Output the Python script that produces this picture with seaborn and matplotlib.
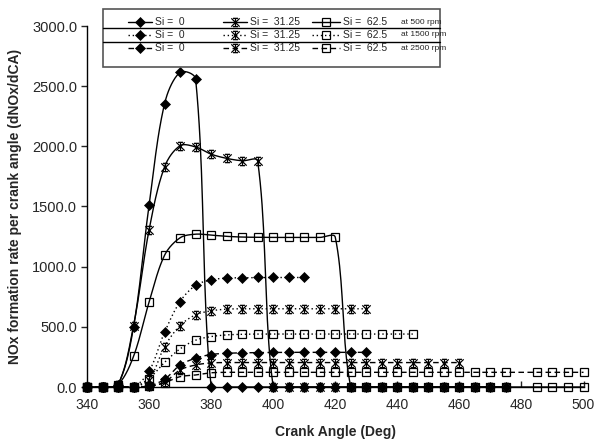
import numpy as np
import pandas as pd
import matplotlib
matplotlib.use("Agg")
import matplotlib.pyplot as plt
import seaborn as sns
from matplotlib.lines import Line2D
from matplotlib.patches import Rectangle
from matplotlib.path import Path

# ---------------- data ----------------
x_500_si0 = [340, 345, 350, 355, 360, 365, 370, 375, 380, 385, 390, 395, 400, 405,
             410, 415, 420, 425, 430, 435, 440, 445, 450, 455, 460, 465, 470, 475]
y_500_si0 = [0, 0, 20, 500, 1510, 2355, 2615, 2560, 0, 0, 0, 0, 0, 0,
             0, 0, 0, 0, 0, 0, 0, 0, 0, 0, 0, 0, 0, 0]

x_500_si31 = [340, 345, 350, 355, 360, 365, 370, 375, 380, 385, 390, 395, 400, 405,
              410, 415, 420, 425, 430, 435, 440, 445, 450, 455, 460, 465, 470, 475]
y_500_si31 = [0, 0, 20, 510, 1305, 1830, 2005, 1995, 1935, 1900, 1880, 1878, 0, 0,
              0, 0, 0, 0, 0, 0, 0, 0, 0, 0, 0, 0, 0, 0]

x_500_si62 = [340, 345, 350, 355, 360, 365, 370, 375, 380, 385, 390, 395, 400, 405,
              410, 415, 420, 425, 430, 435, 440, 445, 450, 455, 460, 465, 470, 475,
              485, 490, 495, 500]
y_500_si62 = [0, 0, 20, 255, 705, 1095, 1240, 1270, 1262, 1252, 1246, 1244, 1243, 1243,
              1243, 1243, 1245, 0, 0, 0, 0, 0, 0, 0, 0, 0, 0, 0,
              0, 0, 0, 0]

x_1500_si0 = [340, 345, 350, 355, 360, 365, 370, 375, 380, 385, 390, 395, 400, 405, 410]
y_1500_si0 = [0, 0, 0, 0, 130, 455, 710, 845, 890, 905, 908, 910, 910, 910, 910]

x_1500_si31 = [340, 345, 350, 355, 360, 365, 370, 375, 380, 385, 390, 395, 400, 405,
               410, 415, 420, 425, 430]
y_1500_si31 = [0, 0, 0, 0, 60, 336, 511, 600, 633, 647, 650, 650, 650, 650,
               650, 650, 650, 650, 650]

x_1500_si62 = [340, 345, 350, 355, 360, 365, 370, 375, 380, 385, 390, 395, 400, 405,
               410, 415, 420, 425, 430, 435, 440, 445]
y_1500_si62 = [0, 0, 0, 0, 70, 205, 317, 389, 419, 433, 438, 440, 440, 440,
               440, 440, 440, 440, 440, 440, 440, 440]

x_2500_si0 = [340, 345, 350, 355, 360, 365, 370, 375, 380, 385, 390, 395, 400, 405,
              410, 415, 420, 425, 430]
y_2500_si0 = [0, 0, 0, 0, 10, 64, 183, 239, 270, 280, 284, 286, 287, 288,
              288, 288, 288, 288, 288]

x_2500_si31 = [340, 345, 350, 355, 360, 365, 370, 375, 380, 385, 390, 395, 400, 405,
               410, 415, 420, 425, 430, 435, 440, 445, 450, 455, 460]
y_2500_si31 = [0, 0, 0, 0, 5, 40, 142, 183, 200, 203, 203, 203, 203, 203,
               203, 203, 203, 203, 203, 203, 203, 203, 203, 203, 203]

x_2500_si62 = [340, 345, 350, 355, 360, 365, 370, 375, 380, 385, 390, 395, 400, 405,
               410, 415, 420, 425, 430, 435, 440, 445, 450, 455, 460, 465, 470, 475,
               485, 490, 495, 500]
y_2500_si62 = [0, 0, 0, 0, 5, 36, 86, 100, 118, 122, 122, 122, 122, 122,
               122, 122, 122, 122, 122, 122, 122, 122, 122, 122, 122, 122, 122, 122,
               122, 122, 122, 122]

si_labels = ["Si =  0", "Si =  31.25", "Si =  62.5"]
rpm_labels = ["at 500 rpm", "at 1500 rpm", "at 2500 rpm"]
x_ticks = [340, 360, 380, 400, 420, 440, 460, 480, 500]
y_ticks = [0, 500, 1000, 1500, 2000, 2500, 3000]

series = [
    (x_500_si0, y_500_si0, 0, 0), (x_500_si31, y_500_si31, 0, 1), (x_500_si62, y_500_si62, 0, 2),
    (x_1500_si0, y_1500_si0, 1, 0), (x_1500_si31, y_1500_si31, 1, 1), (x_1500_si62, y_1500_si62, 1, 2),
    (x_2500_si0, y_2500_si0, 2, 0), (x_2500_si31, y_2500_si31, 2, 1), (x_2500_si62, y_2500_si62, 2, 2),
]

# ---------------- styles ----------------
# Excel-like "star" marker: an X with a vertical stroke and short top/bottom bars
star_path = Path(
    [(-1, -1), (1, 1), (-1, 1), (1, -1), (0, -1), (0, 1), (-0.6, 1), (0.6, 1), (-0.6, -1), (0.6, -1)],
    [Path.MOVETO, Path.LINETO] * 5,
)
line_styles = ["-", (0, (1, 2)), (0, (4, 2.5))]
marker_kw = [
    dict(marker="D", markersize=4.8, markerfacecolor="black", markeredgecolor="black", markeredgewidth=0.5),
    dict(marker=star_path, markersize=6, markerfacecolor="none", markeredgecolor="black", markeredgewidth=0.9),
    dict(marker="s", markersize=5.5, markerfacecolor="none", markeredgecolor="black", markeredgewidth=0.9),
]

W, H = 597, 440
L, R, B, T = 87, 583.5, 387, 26
XMIN, XMAX, YMIN, YMAX = 340, 500, 0, 3000
SX = (R - L) / (XMAX - XMIN)   # px per degree
SY = (B - T) / (YMAX - YMIN)   # px per unit


def smooth_curve(x, y, n=20):
    """Excel-style smoothed line: cubic Bezier segments whose control points
    follow the neighbouring chord, scaled by relative segment length on screen."""
    p = np.column_stack([np.asarray(x, float) * SX, np.asarray(y, float) * SY])
    m = len(p)
    d = np.hypot(*np.diff(p, axis=0).T)
    out = []
    for i in range(m - 1):
        p1, p2 = p[i], p[i + 1]
        if i > 0:
            t1 = (p2 - p[i - 1]) * d[i] / (d[i - 1] + d[i]) / 3.0
        else:
            t1 = (p2 - p1) / 3.0
        if i + 2 < m:
            t2 = (p[i + 2] - p1) * d[i] / (d[i] + d[i + 1]) / 3.0
        else:
            t2 = (p2 - p1) / 3.0
        c1, c2 = p1 + t1, p2 - t2
        t = np.linspace(0, 1, n, endpoint=False)[:, None]
        seg = ((1 - t) ** 3) * p1 + 3 * ((1 - t) ** 2) * t * c1 + 3 * (1 - t) * t ** 2 * c2 + t ** 3 * p2
        out.append(seg)
    out.append(p[-1:])
    arr = np.vstack(out)
    return arr[:, 0] / SX, arr[:, 1] / SY


sns.set_style("white")
plt.rcParams["font.family"] = ["Liberation Sans", "DejaVu Sans"]

fig = plt.figure(figsize=(W / 100, H / 100), dpi=100)
ax = fig.add_axes([L / W, 1 - B / H, (R - L) / W, (B - T) / H])

for xs, ys, r, s in series:
    sx, sy = smooth_curve(xs, ys)
    sns.lineplot(x=sx, y=sy, ax=ax, sort=False, estimator=None, color="black",
                 linestyle=line_styles[r], linewidth=1.0)
    sns.lineplot(x=np.array(xs, float), y=np.array(ys, float), ax=ax, sort=False, estimator=None,
                 color="black", linestyle="none", clip_on=False, zorder=5, **marker_kw[s])

ax.set_xlim(XMIN, XMAX)
ax.set_ylim(YMIN, YMAX)
ax.set_xticks(x_ticks)
ax.set_yticks(y_ticks)
ax.set_xticklabels([str(v) for v in x_ticks])
ax.set_yticklabels([f"{v:.1f}" for v in y_ticks])
for sp in ["top", "right"]:
    ax.spines[sp].set_visible(False)
for sp in ["left", "bottom"]:
    ax.spines[sp].set_color("black")
    ax.spines[sp].set_linewidth(1.0)
ax.tick_params(axis="y", direction="out", length=4, width=1, labelsize=10.5, pad=3, left=True)
ax.tick_params(axis="x", direction="in", length=4, width=1, labelsize=10, pad=8, bottom=True)
ax.set_xlabel("Crank Angle (Deg)", fontsize=10, fontweight="bold", labelpad=9)
ax.set_ylabel("NOx formation rate per crank angle (dNOx/dCA)", fontsize=10, fontweight="bold", labelpad=7)
ax.grid(False)

# ---------------- legend box (drawn in figure pixels) ----------------
def fx(px):
    return px / W


def fy(py):
    return 1 - py / H


box_l, box_r, box_t, box_b = 103, 440, 9, 67
fig.add_artist(Rectangle((fx(box_l), fy(box_b)), fx(box_r) - fx(box_l), fy(box_t) - fy(box_b),
                         transform=fig.transFigure, facecolor="white", edgecolor="#555555",
                         linewidth=1.2, zorder=10))
row_y = [22, 35, 48]
for dy in [28.5, 41.7]:
    fig.add_artist(Line2D([fx(box_l), fx(box_r)], [fy(dy), fy(dy)], transform=fig.transFigure,
                          color="black", linewidth=1.0, zorder=11))
col_line = [(128, 152), (223, 247), (312, 340)]
for r in range(3):
    for s in range(3):
        x0, x1 = col_line[s]
        fig.add_artist(Line2D([fx(x0), fx(x1)], [fy(row_y[r]), fy(row_y[r])], transform=fig.transFigure,
                              color="black", linestyle=line_styles[r], linewidth=1.0, zorder=11))
        fig.add_artist(Line2D([fx((x0 + x1) / 2)], [fy(row_y[r])], transform=fig.transFigure,
                              color="black", linestyle="none", zorder=12, **marker_kw[s]))
        fig.text(fx(x1 + 3), fy(row_y[r]), si_labels[s], fontsize=7.5, ha="left", va="center", zorder=12)
    fig.text(fx(401), fy(row_y[r]), rpm_labels[r], fontsize=6, ha="left", va="center", zorder=12)

fig.savefig("out.png", dpi=100)
